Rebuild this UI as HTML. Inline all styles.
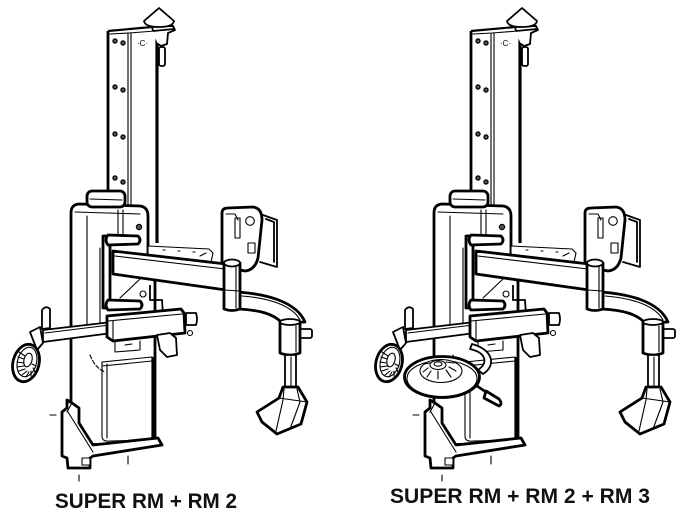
<!DOCTYPE html>
<html><head><meta charset="utf-8"><style>
html,body{margin:0;padding:0;background:#fff;}
svg{display:block;}
.k{stroke:#000;stroke-width:2.8;fill:#fff;stroke-linejoin:round;stroke-linecap:round;}
.m{stroke:#000;stroke-width:1.8;fill:#fff;stroke-linejoin:round;stroke-linecap:round;}
.t{stroke:#000;stroke-width:1.1;fill:none;stroke-linecap:round;stroke-linejoin:round;}
.tw{stroke:#000;stroke-width:1.1;fill:#fff;stroke-linejoin:round;}
.b{stroke:#000;stroke-width:1.2;fill:#555;}
.lbl{font-family:"Liberation Sans",sans-serif;font-weight:bold;font-size:21px;fill:#111;}
</style></head><body>
<svg width="684" height="521" viewBox="0 0 684 521" xmlns="http://www.w3.org/2000/svg">
<defs>
<g id="mach">
  <!-- column -->
  <path d="M108,31 L157,27 L157,242 L108,242 Z" fill="#fff"/>
  <path d="M108,31 L108,205" stroke="#000" stroke-width="2.8" fill="none"/>
  <path d="M157,28 L157,243" stroke="#000" stroke-width="3.2" fill="none"/>
  <path d="M108,31 L152,27" stroke="#000" stroke-width="2.2" fill="none"/>
  <path class="t" d="M128,34 L128,205 M131,33 L131,205 M110,34 L129,33 L155,31"/>
  <circle class="b" cx="115" cy="41" r="2.1"/><circle class="b" cx="123" cy="43" r="2.1"/>
  <circle class="b" cx="115" cy="87" r="2.1"/><circle class="b" cx="123" cy="90" r="2.1"/>
  <circle class="b" cx="115" cy="134" r="2.1"/><circle class="b" cx="123" cy="137" r="2.1"/>
  <circle class="b" cx="115" cy="178" r="2.1"/><circle class="b" cx="123" cy="182" r="2.1"/>
  <text x="137" y="46" font-family="Liberation Sans,sans-serif" font-size="8" fill="#000">·C·</text>
  <!-- top bracket -->
  <path class="m" d="M150,27 L173,26 L175,30 L168,33 L167,44 L161,46 L158,44"/>
  <rect class="m" x="159" y="47" width="6" height="19" rx="2"/>
  <!-- cone -->
  <path class="m" d="M152,27 L173,26 L174,29 L153,31 Z"/>
  <path class="m" d="M144,21 L159,8 L174,21 Q173,27 159,27 Q145,27 144,21 Z"/>
  <!-- housing -->
  <path class="k" d="M71,445 L71,213 Q71,204 80,204 L140,206 Q148,207 148,216 L148,262 L155,282 L155,443 Z"/>
  <path class="t" d="M75,212 L140,214 M87,216 L87,335 M118,210 L118,240 M123,210 L123,240 M100,248 L100,330"/>
  <circle class="b" cx="139" cy="227" r="2.6"/>
  <!-- cap -->
  <rect class="k" x="87" y="191" width="38" height="16" rx="5"/>
  <path class="t" d="M90,199 L122,200"/>
  <!-- lower box -->
  <path class="tw" d="M102,362 L152,357 L153,440 L110,441 Q102,442 102,436 Z"/>
  <path class="t" d="M107,364 L107,438 M102,366 L152,361"/>
  <path d="M153,357 L153,442" stroke="#000" stroke-width="3.2"/>
  <path class="t" d="M90,355 Q95,368 105,372" stroke-dasharray="4,2"/>
  <!-- base -->
  <path class="k" d="M67,400 L72,403 L79,408 L79,423 L93,445 L158,438 L162,445 L93,456 L90,458 L90,468 L68,468 L67,458 L62,456 L62,412 L67,408 Z"/>
  <path class="t" d="M68,412 L93,452 M72,403 L67,412"/>
  <rect class="tw" x="82" y="458" width="8" height="7"/>
  <path class="t" d="M50,415 L56,415 M79,475 L79,481 M128,456 L128,464"/>
  <!-- slide plate behind arm -->
  <path class="tw" d="M148,246 L209,249 L213,253 L211,262 L148,258 Z"/>
  <path class="t" d="M163,250 L165,250 M178,251 L180,251 M193,252 L195,252 M200,256 L206,253"/>
  <!-- mount head -->
  <path class="m" d="M263,215 L277,220 L277,267 L260,262 M266,219 L274,222 L274,262"/>
  <path class="k" d="M222,213 Q222,208 228,208 L253,207 Q262,208 262,220 L258,258 Q255,270 245,271 L230,268 L222,262 Z"/>
  <rect class="tw" x="235" y="218" width="5" height="20"/>
  <circle class="tw" cx="250" cy="221" r="4.3"/>
  <rect class="tw" x="248" y="243" width="7" height="10"/>
  <path class="t" d="M226,214 L235,214 L238,220"/>
  <!-- arm bracket -->
  <path class="k" d="M103,236 L110,236 L110,308 L103,308 Z"/>
  <path class="k" d="M108,235 L138,236 Q142,240 138,244 L108,245 Q104,240 108,235 Z"/>
  <path class="k" d="M108,300 L140,301 Q144,305 140,309 L108,310 Q104,305 108,300 Z"/>
  <path class="t" d="M120,298 L140,279"/>
  <circle class="tw" cx="143" cy="294" r="3"/>
  <path d="M150,285 L150,300 L162,300 L163,315" stroke="#000" stroke-width="1.8" fill="none"/>
  <!-- arm -->
  <path class="k" d="M113,251 L226,264 L226,290 L113,274 Z"/>
  <path class="t" d="M115,256 L225,269"/>
  <!-- curved arm -->
  <path class="k" d="M238,292 C265,294 296,301 305,322 L282,323 C274,314 260,310 238,309 Z"/>
  <path class="t" d="M242,296 C268,298 292,305 300,320"/>
  <!-- pin -->
  <path class="k" d="M224,263 L224,309 Q232,312 240,309 L240,263 Z"/>
  <ellipse class="m" cx="232" cy="263" rx="8" ry="3.5"/>
  <path class="t" d="M224,290 L240,291 M236,266 L236,308"/>
  <!-- tool head -->
  <rect class="m" x="300" y="329" width="12" height="9" rx="2"/>
  <path class="k" d="M280,322 L300,322 L300,353 Q290,357 280,353 Z"/>
  <ellipse class="m" cx="290" cy="322" rx="10" ry="3"/>
  <path class="t" d="M296,326 L296,352"/>
  <path class="m" d="M285,355 L296,355 L296,388 L285,388 Z"/>
  <path class="t" d="M291,357 L291,386"/>
  <path class="k" d="M283,387 L298,387 L307,402 L301,424 L277,434 L262,422 L257,412 L279,398 Z"/>
  <path class="t" d="M284,389 L283,400 L276,431 M297,389 L300,402 L290,429 M279,398 L307,402"/>
  <!-- helper arm: bar -->
  <path class="m" d="M43,330 L112,322 L112,333 L43,342 Z"/>
  <path class="t" d="M45,333 L110,325"/>
  <!-- handle knob -->
  <path class="m" d="M42,310 Q46,305 50,309 L50,328 L42,329 Z"/>
  <!-- block -->
  <path class="m" d="M186,313 L196,313 Q198,319 196,325 L186,325 Z"/>
  <path class="k" d="M107,316 L181,309 L184,313 L185,333 L113,341 L107,337 Z"/>
  <path class="t" d="M108,321 L182,314 M113,321 L113,340"/>
  <circle class="tw" cx="190" cy="333" r="2.5"/>
  <path class="m" d="M157,335 L170,333 L176,338 L177,355 L167,357 L160,350 Z"/>
  <path class="t" d="M115,341 L115,352 L140,350 L140,341 M125,345 L132,344"/>
  <!-- fork + wheel -->
  <path class="m" d="M30,332 L40,327 L43,343 L37,350 Z"/>
  <ellipse class="k" cx="26" cy="363" rx="13" ry="19" transform="rotate(15 26 363)"/>
  <ellipse class="t" cx="27" cy="362" rx="9.5" ry="15" transform="rotate(15 27 362)"/>
  <ellipse class="t" cx="28" cy="360" rx="4" ry="7" transform="rotate(15 28 360)"/>
  <path class="t" d="M19,352 L25,356 M18,357 L24,359 M17,362 L24,363 M17,367 L24,366 M19,371 L25,369 M22,375 L27,371 M26,377 L29,372 M31,376 L31,371 M35,372 L33,368 M36,366 L32,364"/>
</g>
</defs>

<use href="#mach"/>
<use href="#mach" transform="translate(363,0)"/>

<!-- RM 3 disc on right machine -->
<path class="m" d="M472,344 C494,350 496,366 483,374 L478,370 C488,363 487,353 470,349 Z"/>
<path class="k" d="M486,392 L477,386" />
<path class="k" d="M486,391 L499,399 Q503,404 499,406 L484,398 Z"/>
<ellipse class="k" cx="442" cy="377" rx="37.5" ry="20.5"/>
<ellipse class="t" cx="442" cy="378.5" rx="35" ry="18"/>
<ellipse class="tw" cx="441" cy="371" rx="21" ry="11.5"/>
<ellipse class="tw" cx="438" cy="365" rx="8" ry="4.5"/>
<ellipse class="t" cx="438" cy="364" rx="4" ry="2.2"/>
<path class="t" d="M428,368 L423,372 M431,371 L427,377 M438,371 L438,379 M446,370 L451,377 M449,367 L456,371 M446,362 L454,363 M430,363 L424,364"/>

<text class="lbl" x="55" y="508" textLength="182" lengthAdjust="spacingAndGlyphs">SUPER RM + RM 2</text>
<text class="lbl" x="390" y="503" textLength="260" lengthAdjust="spacingAndGlyphs">SUPER RM + RM 2 + RM 3</text>
</svg>
</body></html>
